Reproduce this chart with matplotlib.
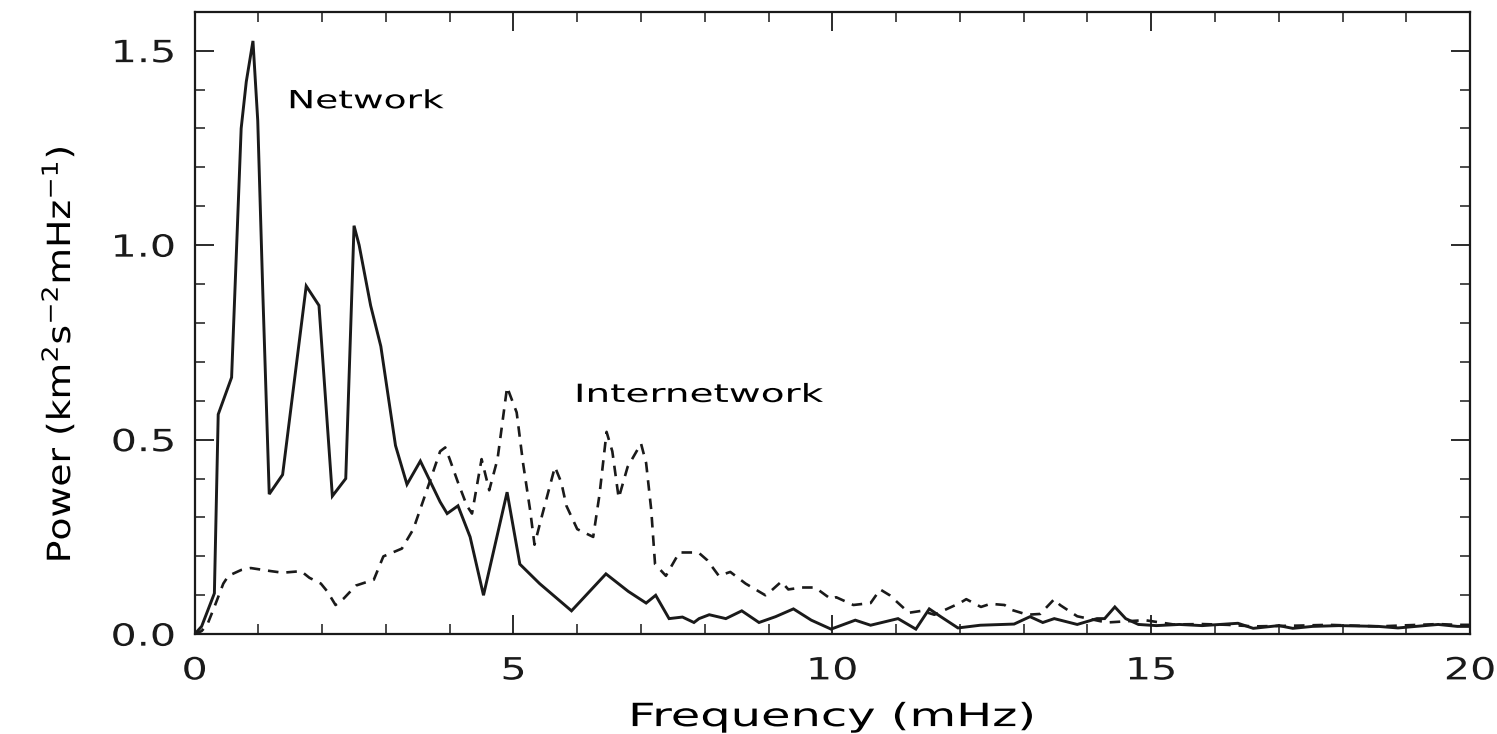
import matplotlib
matplotlib.use("Agg")
import matplotlib.pyplot as plt
from matplotlib.ticker import MultipleLocator
from matplotlib.patheffects import AbstractPathEffect
from matplotlib.transforms import Affine2D

# Network (solid) power spectrum
net_freq = [0, 0.11, 0.31, 0.37, 0.58, 0.73, 0.81, 0.915, 0.99, 1.07, 1.17, 1.38,
            1.75, 1.95, 2.16, 2.37, 2.5, 2.58, 2.76, 2.92, 3.15, 3.33, 3.54, 3.85,
            3.96, 4.13, 4.32, 4.53, 4.9, 5.1, 5.41, 5.91, 6.45, 6.8, 7.08, 7.23,
            7.44, 7.65, 7.83, 7.91, 8.07, 8.33, 8.58, 8.85, 9.11, 9.39, 9.67, 9.98,
            10.36, 10.6, 11.03, 11.31, 11.52, 11.7, 11.97, 12.32, 12.85, 13.1, 13.3,
            13.48, 13.84, 14.15, 14.27, 14.43, 14.6, 14.8, 15.08, 15.44, 15.8, 16.36,
            16.6, 17.0, 17.22, 17.53, 17.94, 18.56, 18.87, 19.5, 19.8, 20.0]
net_power = [0, 0.02, 0.105, 0.565, 0.66, 1.30, 1.42, 1.525, 1.32, 0.875, 0.36, 0.41,
             0.895, 0.845, 0.355, 0.40, 1.05, 1.0, 0.845, 0.74, 0.485, 0.385, 0.445, 0.34,
             0.31, 0.33, 0.25, 0.10, 0.365, 0.18, 0.13, 0.06, 0.155, 0.11, 0.08, 0.10,
             0.04, 0.044, 0.03, 0.04, 0.05, 0.04, 0.06, 0.03, 0.045, 0.065, 0.036, 0.013,
             0.036, 0.023, 0.04, 0.013, 0.065, 0.045, 0.016, 0.023, 0.026, 0.045, 0.03,
             0.04, 0.025, 0.04, 0.04, 0.07, 0.04, 0.025, 0.022, 0.025, 0.022, 0.028,
             0.015, 0.022, 0.015, 0.02, 0.022, 0.02, 0.016, 0.025, 0.02, 0.02]

# Internetwork (dashed) power spectrum
inet_freq = [0, 0.11, 0.2, 0.31, 0.45, 0.53, 0.73, 0.88, 1.2, 1.38, 1.67, 1.8, 1.98,
             2.08, 2.21, 2.34, 2.53, 2.81, 2.96, 3.25, 3.43, 3.62, 3.85, 3.93, 4.0,
             4.13, 4.27, 4.35, 4.5, 4.62, 4.75, 4.9, 5.05, 5.15, 5.26, 5.33, 5.44,
             5.65, 5.75, 5.83, 6.0, 6.25, 6.35, 6.46, 6.55, 6.65, 6.79, 7.0, 7.08,
             7.16, 7.22, 7.39, 7.6, 7.9, 8.04, 8.22, 8.4, 8.64, 8.95, 9.03, 9.2, 9.31,
             9.52, 9.73, 9.98, 10.06, 10.33, 10.6, 10.75, 10.9, 11.2, 11.4, 11.6, 12.0,
             12.1, 12.33, 12.48, 12.7, 12.82, 13.06, 13.26, 13.48, 13.57, 13.84, 14.3,
             14.9, 15.35, 15.8, 16.2, 16.6, 17.3, 17.78, 18.56, 19.5, 19.8, 20.0]
inet_power = [0, 0.008, 0.025, 0.07, 0.13, 0.15, 0.165, 0.17, 0.162, 0.158, 0.162, 0.145, 0.13,
              0.11, 0.075, 0.092, 0.125, 0.14, 0.2, 0.22, 0.27, 0.36, 0.47, 0.48, 0.45,
              0.39, 0.33, 0.31, 0.45, 0.37, 0.45, 0.635, 0.57, 0.44, 0.32, 0.23, 0.30,
              0.43, 0.39, 0.33, 0.27, 0.25, 0.36, 0.52, 0.47, 0.35, 0.43, 0.49, 0.44,
              0.32, 0.18, 0.15, 0.21, 0.21, 0.19, 0.15, 0.16, 0.13, 0.10, 0.11, 0.135, 0.115,
              0.12, 0.12, 0.09, 0.095, 0.075, 0.08, 0.115, 0.10, 0.055, 0.06, 0.05, 0.08,
              0.09, 0.07, 0.078, 0.075, 0.062, 0.05, 0.052, 0.09, 0.075, 0.046, 0.03,
              0.036, 0.025, 0.026, 0.024, 0.02, 0.022, 0.024, 0.02, 0.026, 0.024, 0.024]

xticks = [0, 5, 10, 15, 20]
yticks = [0.0, 0.5, 1.0, 1.5]


class StretchText(AbstractPathEffect):
    """Widen text glyph runs horizontally (along the text direction)."""
    def __init__(self, sx=1.4, anchor='center'):
        super().__init__()
        self.sx = sx
        self.anchor = anchor

    def draw_path(self, renderer, gc, tpath, affine, rgbFace=None):
        ext = tpath.get_extents()
        x0 = {'left': ext.x0, 'center': 0.5 * (ext.x0 + ext.x1), 'right': ext.x1}[self.anchor]
        st = Affine2D().translate(-x0, 0).scale(self.sx, 1.0).translate(x0, 0)
        renderer.draw_path(gc, tpath, st + affine, rgbFace)


plt.rcParams['font.family'] = ['DejaVu Sans']
INK = '#1a1a1a'

fig = plt.figure(figsize=(14.97, 7.34), dpi=100)
ax = fig.add_axes([0.130, 0.136, 0.852, 0.848])

ax.plot(net_freq, net_power, color=INK, lw=2.1, solid_joinstyle='miter')
ax.plot(inet_freq, inet_power, color=INK, lw=1.9, linestyle=(0, (4, 3)))

ax.set_xlim(0, 20)
ax.set_ylim(0, 1.6)
ax.set_xticks(xticks)
xl = ax.set_xticklabels([str(t) for t in xticks])
ax.set_yticks(yticks)
yl = ax.set_yticklabels([f"{t:.1f}" for t in yticks])
ax.xaxis.set_minor_locator(MultipleLocator(1))
ax.yaxis.set_minor_locator(MultipleLocator(0.1))
ax.tick_params(which='both', direction='in', top=True, right=True, colors=INK)
ax.tick_params(which='major', length=14, width=1.3, labelsize=22)
ax.tick_params(axis='x', which='major', pad=16)
ax.tick_params(axis='y', which='major', pad=14)
ax.tick_params(which='minor', length=7, width=1.1)
for s in ax.spines.values():
    s.set_linewidth(1.6)
    s.set_color(INK)

for t in xl:
    t.set_path_effects([StretchText(1.35, 'center')])
for t in yl:
    t.set_path_effects([StretchText(1.35, 'right')])

xlab = ax.set_xlabel('Frequency (mHz)', fontsize=23, labelpad=12)
xlab.set_path_effects([StretchText(1.5, 'center')])
ylab = ax.set_ylabel(r'Power (km$^2$s$^{-2}$mHz$^{-1}$)', fontsize=23)
ylab.set_path_effects([StretchText(1.18, 'center')])
ax.yaxis.set_label_coords(-0.092, 0.45)

t1 = ax.text(1.47, 1.37, 'Network', fontsize=18, ha='left', va='center')
t1.set_path_effects([StretchText(1.5, 'left')])
t2 = ax.text(5.97, 0.615, 'Internetwork', fontsize=18, ha='left', va='center')
t2.set_path_effects([StretchText(1.56, 'left')])

fig.savefig('out.png', dpi=100)
